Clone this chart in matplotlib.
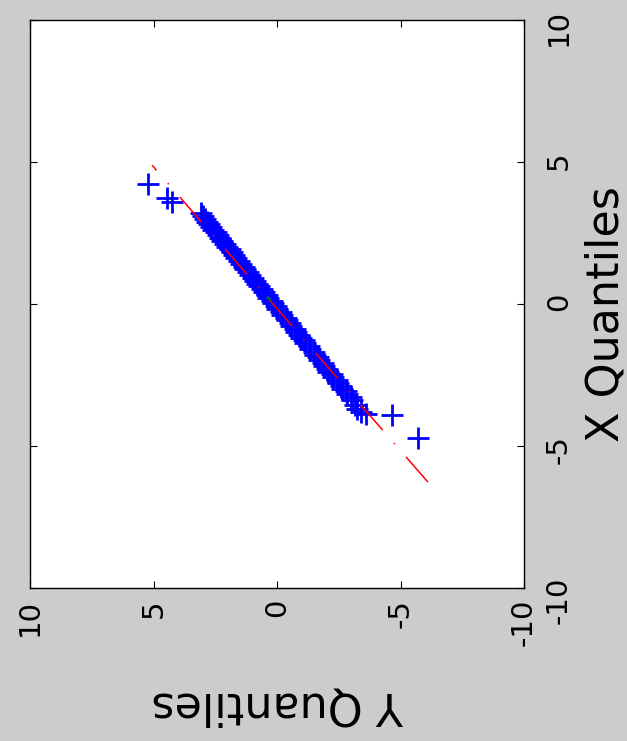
import matplotlib
matplotlib.use("Agg")
import matplotlib.pyplot as plt

# quantile pairs, sorted: x quantiles vs y quantiles
x_q = [-4.72, -3.91, -3.86, -3.80, -3.70, -3.55,
       -3.38, -3.28, -3.18, -3.08, -2.98, -2.88, -2.78, -2.68, -2.58, -2.48,
       -2.38, -2.28, -2.18, -2.08, -1.98, -1.88, -1.78, -1.68, -1.58, -1.48,
       -1.38, -1.28, -1.18, -1.08, -0.98, -0.88, -0.78, -0.68, -0.58, -0.48,
       -0.38, -0.28, -0.18, -0.08, 0.02, 0.12, 0.22, 0.32, 0.42, 0.52,
       0.62, 0.72, 0.82, 0.92, 1.02, 1.12, 1.22, 1.32, 1.42, 1.52,
       1.62, 1.72, 1.82, 1.92, 2.02, 2.12, 2.22, 2.32, 2.42, 2.52,
       2.62, 2.72, 2.81, 2.89,
       2.98, 3.10, 3.22, 3.59, 3.73, 4.23]
y_q = [-5.71, -4.66, -3.62, -3.40, -3.24, -3.14,
       -3.04, -2.98, -2.83, -2.79, -2.64, -2.60, -2.45, -2.41, -2.27, -2.22,
       -2.08, -2.04, -1.89, -1.85, -1.70, -1.66, -1.52, -1.48, -1.33, -1.29,
       -1.14, -1.10, -0.96, -0.91, -0.77, -0.72, -0.58, -0.54, -0.40, -0.35,
       -0.21, -0.16, -0.02, 0.03, 0.17, 0.22, 0.35, 0.41, 0.54, 0.60,
       0.72, 0.79, 0.91, 0.97, 1.10, 1.16, 1.28, 1.35, 1.47, 1.54,
       1.66, 1.73, 1.84, 1.91, 2.03, 2.10, 2.21, 2.29, 2.40, 2.48,
       2.58, 2.67, 2.75, 2.83,
       2.90, 2.98, 3.06, 4.25, 4.45, 5.22]

# reference line (extended) and the short middle piece
line_x = [-6.27, 4.89]
line_y = [-6.11, 5.06]
mid_x = [0.14, 0.23]
mid_y = [0.28, 0.38]

ticks = [-10, -5, 0, 5, 10]

plt.rcParams['axes.unicode_minus'] = False
plt.rcParams['lines.scale_dashes'] = False
plt.rcParams['font.family'] = ['DejaVu Sans']

fig = plt.figure(figsize=(6.27, 7.41), dpi=100, facecolor='#cccccc')
ax = fig.add_axes([30/627, 1 - 588/741, 494/627, 568/741])

# plot is turned on its side: y quantiles run right-to-left, x quantiles upward
ax.plot(y_q, x_q, '+', color='#0000ff', ms=16, mew=2.0)
ax.plot(mid_y, mid_x, '-', color='#008000', lw=1.5)
ax.plot(line_y, line_x, color='#ff0000', lw=1.1,
        linestyle=(0, (24, 12.3, 1, 12.3)))

ax.set_xlim(10, -10)
ax.set_ylim(-10, 10)
ax.set_xticks(ticks)
ax.set_yticks(ticks)
ax.set_xticklabels([str(t) for t in ticks])
ax.set_yticklabels([str(t) for t in ticks])

ax.tick_params(direction='in', length=5, width=0.8, top=True, bottom=True,
               left=True, right=True, labelleft=False, labelright=True,
               labelsize=21, colors='black')
ax.tick_params(axis='x', labelrotation=90, pad=8)
ax.tick_params(axis='y', labelrotation=90, pad=15)
for s in ax.spines.values():
    s.set_linewidth(1.0)

fig.text(606/627, 1 - 314/741, 'X Quantiles', rotation=90,
         ha='center', va='center', fontsize=32)
fig.text(278/627, 1 - 705/741, 'Y Quantiles', rotation=180,
         ha='center', va='center', fontsize=32)

fig.savefig('out.png', dpi=100, facecolor=fig.get_facecolor())
